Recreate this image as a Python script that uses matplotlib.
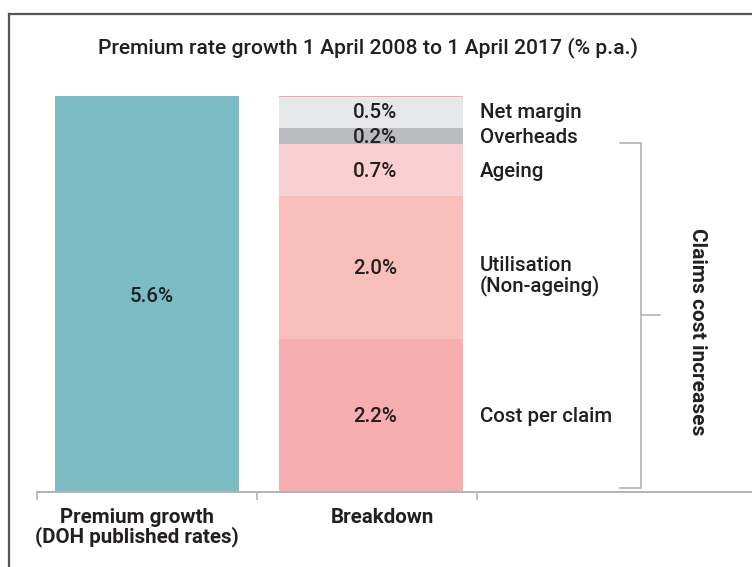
import matplotlib.pyplot as plt
from matplotlib.lines import Line2D

plt.rcParams['font.family'] = ['Roboto', 'DejaVu Sans']

# data
categories = ["Premium growth\n(DOH published rates)", "Breakdown"]
premium_growth = 5.6
premium_label = "5.6%"

parts = ["Cost per claim", "Utilisation\n(Non-ageing)", "Ageing", "Overheads", "Net margin"]
part_values = [2.16, 2.02, 0.74, 0.23, 0.45]
part_labels = ["2.2%", "2.0%", "0.7%", "0.2%", "0.5%"]
part_colors = ["#f7aeae", "#f8bfba", "#f8d0d1", "#bbbcc0", "#e6e7e9"]
claims_parts = 3  # first three parts are claims cost increases

TEXT = "#231f20"
GREY = "#b3b3b6"
FS = 14.8
WT = "medium"

fig = plt.figure(figsize=(7.52, 5.67), dpi=100)
W, H = 752, 567

# frame around the chart (left and top only visible)
fig.add_artist(Line2D([9 / W, 9 / W], [0, 1 - 14 / H], transform=fig.transFigure,
                      color="#555555", lw=1.6))
fig.add_artist(Line2D([9 / W, 1], [1 - 14 / H, 1 - 14 / H], transform=fig.transFigure,
                      color="#555555", lw=1.6))

fig.text(368 / W, 1 - 48 / H, "Premium rate growth 1 April 2008 to 1 April 2017 (% p.a.)",
         ha="center", va="center", fontsize=15.2, fontweight=WT, color=TEXT)

ax = fig.add_axes([37 / W, 75 / H, 770 / W, 396 / H])
ax.set_xlim(-0.5, 3.0)
ax.set_ylim(0, premium_growth)
for s in ["top", "left", "right"]:
    ax.spines[s].set_visible(False)
ax.spines["bottom"].set_color(GREY)
ax.spines["bottom"].set_linewidth(1.4)
ax.set_yticks([])
ax.set_xticks([-0.5, 0.5, 1.5])
ax.set_xticklabels([])
ax.tick_params(axis="x", length=6, width=1.2, color=GREY, direction="out")

bar_w = 0.836
x_prem, x_brk = 0.0, 1.018

ax.bar(x_prem, premium_growth, width=bar_w, color="#7bbcc5", zorder=2)
ax.text(x_prem + 0.02, premium_growth / 2 - 0.03, premium_label, ha="center", va="center",
        fontsize=FS, fontweight=WT, color=TEXT)

bottom = 0
for name, val, lab, col in zip(parts, part_values, part_labels, part_colors):
    ax.bar(x_brk, val, bottom=bottom, width=bar_w, color=col, zorder=2)
    mid = bottom + val / 2 - 0.015
    ax.text(x_brk + 0.02, mid, lab, ha="center", va="center", fontsize=FS,
            fontweight=WT, color=TEXT)
    ty = mid - 0.1 if "\n" in name else mid
    ax.text(1.514, ty, name, ha="left", va="center", fontsize=FS, fontweight=WT,
            color=TEXT, linespacing=0.95, clip_on=False)
    bottom += val
total = bottom
ax.hlines(total, x_brk - bar_w / 2, x_brk + bar_w / 2, color="#f4a0a0", lw=1.2, zorder=3)

# bracket for claims cost increases
claims_top = sum(part_values[:claims_parts])
y0, y1 = 0.06, claims_top + 0.02
bx = 2.244
ax.plot([2.15, bx, bx, 2.15], [y1, y1, y0, y0], color=GREY, lw=1.2, clip_on=False)
ax.plot([bx, 2.332], [(y0 + y1) / 2] * 2, color=GREY, lw=1.2, clip_on=False)
ax.text(2.5, (y0 + y1) / 2 - 0.23, "Claims cost increases", rotation=-90, ha="center",
        va="center", fontsize=15.0, fontweight="bold", color=TEXT, clip_on=False)

# category labels
ax.text(-0.045, -0.5, categories[0], ha="center", va="center", fontsize=FS,
        fontweight="bold", color=TEXT, linespacing=1.0)
ax.text(1.07, -0.36, categories[1], ha="center", va="center", fontsize=FS,
        fontweight="bold", color=TEXT)

fig.savefig("out.png", dpi=100)
